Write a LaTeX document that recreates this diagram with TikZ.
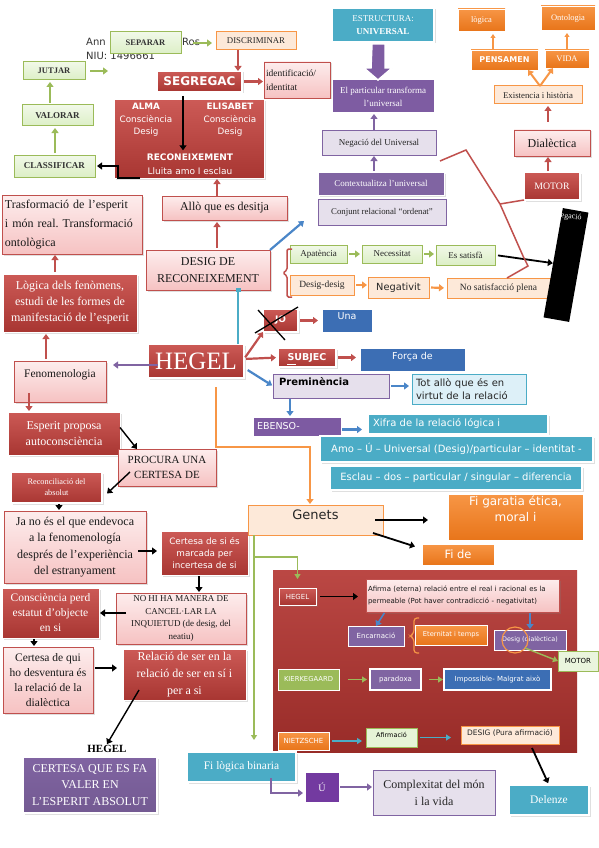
\documentclass[tikz,border=0pt]{standalone}
\usepackage{fontspec}
\setmainfont{Liberation Serif}
\newfontfamily\djs{DejaVu Sans}
\usetikzlibrary{arrows.meta,shadows,calc}
\frenchspacing
\definecolor{rd}{HTML}{C0504D}
\definecolor{rdt}{HTML}{CC5A56}
\definecolor{rdd}{HTML}{A83632}
\definecolor{pkt}{HTML}{FDEDED}
\definecolor{pkb}{HTML}{F6C2C2}
\definecolor{gr}{HTML}{9BBB59}
\definecolor{grl}{HTML}{DCEFC6}
\definecolor{org}{HTML}{F79646}
\definecolor{orgd}{HTML}{E8751A}
\definecolor{pch}{HTML}{FDE9D9}
\definecolor{pu}{HTML}{8064A2}
\definecolor{pud}{HTML}{7030A0}
\definecolor{lav}{HTML}{E6E0EC}
\definecolor{tl}{HTML}{4BACC6}
\definecolor{bl}{HTML}{3C6EB4}
\definecolor{barrc}{HTML}{4A86C8}
\definecolor{lbl}{HTML}{DDF0F8}
\definecolor{bigr}{HTML}{B3332F}
\newcommand\fsz[2]{\fontsize{#1}{#2}\selectfont}
\newcommand\bx[7]{\node[#6, minimum width=#4pt-#2pt, minimum height=#5pt-#3pt] (#1) at ({(#2+#4)/2},{(#3+#5)/2}) {#7};}
\tikzset{
 base/.style={rectangle, inner sep=1pt, outer sep=0pt, align=center},
 shd/.style={drop shadow={opacity=0.25, shadow xshift=1.5pt, shadow yshift=-1.5pt}},
 gbox/.style={base, top color=grl!40!white, bottom color=grl, draw=gr, line width=1pt, font=\fsz{9}{10}\bfseries, text=black!80},
 gbox2/.style={base, top color=grl!40!white, bottom color=grl, draw=gr, line width=1pt, font=\fsz{9}{10}, text=black!85},
 pbox/.style={base, top color=pkt, bottom color=pkb, draw=rd, line width=0.8pt, text=black!90, font=\fsz{12}{16}, shd},
 rbox/.style={base, top color=rdt, bottom color=rdd, draw=white, line width=0.8pt, text=white, font=\fsz{11.5}{16}, shd},
 rwb/.style={rbox, line width=2.2pt},
 peach/.style={base, fill=pch, draw=org, line width=1pt, text=black!85, font=\fsz{8.8}{10}},
 peach2/.style={peach, font=\fsz{9.5}{11}},
 orbox/.style={base, top color=org, bottom color=orgd, draw=white, line width=0.6pt, text=white, font=\fsz{8.5}{10}},
 purpbox/.style={base, fill=pu, draw=white, line width=1pt, text=white, font=\fsz{9}{11}},
 lavbox/.style={base, fill=lav, draw=pu, line width=1pt, text=black!85, font=\fsz{9}{11}},
 tealbox/.style={base, fill=tl, draw=white, line width=1.5pt, text=white, font=\djs\fsz{10}{11.5}, shd},
 bluebox/.style={base, fill=bl, draw=white, line width=0.6pt, text=white, font=\djs\fsz{9.5}{11}},
 tiny/.style={font=\djs\fsz{7}{8}},
 arr/.style={-{Triangle[length=5pt,width=7pt]}, line width=2.2pt},
 rarr/.style={arr, draw=rd},
 garr/.style={arr, draw=gr},
 karr/.style={arr, draw=black, line width=1.8pt},
 barr/.style={arr, draw=barrc},
 parr/.style={arr, draw=pu},
 oarr/.style={arr, draw=org},
 tarr/.style={arr, draw=tl},
 thin/.style={-{Triangle[length=4pt,width=5pt]}, line width=1.2pt},
}
\begin{document}
\begin{tikzpicture}[x=1pt,y=-1pt]
\useasboundingbox (0,0) rectangle (599,848);
\fill[white] (0,0) rectangle (599,848);
% author
\node[anchor=west, inner sep=0, font=\djs\fsz{10}{12}, text=black!80] (authA) at (86,42) {Ann};
\node[anchor=west, inner sep=0, font=\djs\fsz{10}{12}, text=black!80] (authB) at (182,42) {Ros};
\node[anchor=west, inner sep=0, font=\djs\fsz{10}{12}, text=black!80] (niu) at (86,56) {NIU: 1496661};
% top left
\bx{separar}{110}{32}{181}{54}{gbox, font=\fsz{8.5}{10}\bfseries}{SEPARAR}
\bx{discr}{216}{32}{296}{50}{peach}{DISCRIMINAR}
\bx{segreg}{157}{71}{242}{92}{rwb, font=\djs\bfseries\fsz{12}{13}}{SEGREGAC}
\bx{ident}{264}{62}{330}{98}{pbox, font=\fsz{9.5}{14}, text width=62pt, align=left}{identificació/\\identitat}
\bx{jutjar}{23}{62}{85}{80}{gbox, font=\fsz{8.5}{10}\bfseries}{JUTJAR}
\bx{valorar}{22}{105}{93}{126}{gbox}{VALORAR}
\bx{classif}{14}{155}{95}{177}{gbox}{CLASSIFICAR}
\coordinate (jutend) at (108,71);
\bx{alma}{114}{100}{264}{178}{rbox, line width=0pt}{}
\node[text=white, font=\djs\fsz{8.8}{12.5}, align=center] (almaA) at (146,120) {\textbf{ALMA}\\Consciència\\Desig};
\node[text=white, font=\djs\fsz{8.8}{12.5}, align=center] (almaB) at (230,120) {\textbf{ELISABET}\\Consciència\\Desig};
\node[text=white, font=\djs\fsz{9}{13.5}, align=center] (recon) at (190,164) {\textbf{RECONEIXEMENT}\\Lluita amo I esclau};
\bx{allo}{162}{196}{287}{220}{pbox}{Allò que es desitja}
\bx{trasf}{2}{195}{142}{254}{pbox, font=\fsz{12}{19}, text width=134pt, align=left}{Trasformació de l’esperit\\i món real. Transformació\\ontològica}
\bx{logica}{3}{274}{137}{332}{rbox, font=\fsz{12}{16}}{Lògica dels fenòmens,\\estudi de les formes de\\manifestació de l’esperit}
\bx{desig}{146}{250}{270}{290}{pbox, font=\fsz{12}{17}}{DESIG DE\\RECONEIXEMENT}
\coordinate (blueend) at (304,221);
\bx{apat}{290}{245}{347}{263}{gbox2}{Apatència}
\bx{necess}{362}{245}{422}{263}{gbox2}{Necessitat}
\bx{satisf}{436}{245}{495}{265}{gbox2}{Es satisfà}
\bx{desdes}{290}{275}{354}{295}{peach2}{Desig-desig}
\bx{negat}{368}{277}{429}{298}{peach2, font=\djs\fsz{9.8}{11}}{Negativit}
\bx{nosat}{447}{278}{550}{298}{peach2}{No satisfacció plena}
\node[fill=black, rotate=-10, minimum width=26pt, minimum height=111pt, inner sep=0] (negbox) at (566,265) {};
\node[text=white, font=\fsz{8}{9}, rotate=-6, anchor=north west, inner sep=0] (negtxt) at (561,212) {egació};
% top middle/right
\bx{estr}{332}{8}{434}{42}{tealbox, font=\fsz{9}{13}}{ESTRUCTURA:\\\textbf{UNIVERSAL}}
\bx{partic}{332}{80}{434}{113}{purpbox, fill=pu!85!pud, font=\fsz{9}{13}}{El particular transforma\\l’universal}
\bx{negu}{322}{131}{436}{155}{lavbox}{Negació del Universal}
\bx{contx}{318}{172}{444}{195}{purpbox, shd}{Contextualitza l’universal}
\bx{conjunt}{318}{199}{446}{225}{lavbox, font=\fsz{8.8}{10}}{Conjunt relacional “ordenat”}
\bx{logic}{458}{9}{505}{31}{orbox}{lògica}
\bx{ontol}{541}{6}{595}{30}{orbox}{Ontologia}
\bx{pensa}{471}{50}{538}{70}{orbox, font=\djs\bfseries\fsz{8}{10}}{PENSAMEN}
\bx{vida}{545}{50}{589}{68}{orbox, font=\fsz{8.5}{10}}{VIDA}
\bx{exist}{494}{86}{582}{104}{peach, font=\fsz{8.8}{10}}{Existencia i història}
\bx{dial}{514}{130}{590}{156}{pbox, font=\fsz{12}{14}}{Dialèctica}
\bx{motor}{524}{172}{580}{200}{rwb, font=\fsz{9.8}{11}}{MOTOR}
% middle
\bx{hegel}{148}{344}{244}{378}{rwb, font=\fsz{25}{27}}{HEGEL}
\bx{jo}{263}{309}{298}{332}{rwb, font=\djs\bfseries\fsz{9}{10}}{JO}
\bx{una}{322}{309}{372}{332}{bluebox}{Una\\[-3pt]\mbox{}}
\bx{subj}{278}{348}{336}{367}{rwb, font=\djs\bfseries\fsz{9.5}{10}}{SUBJEC}
\bx{forca}{360}{348}{465}{371}{bluebox}{Força de\\[-3pt]\mbox{}}
\bx{premin}{273}{374}{389}{398}{lavbox, font=\djs\bfseries\fsz{10}{11}, text=black, text width=104pt, align=left}{Preminència\\[-2pt]\mbox{}}
\bx{totallo}{412}{374}{526}{404}{base, fill=lbl, draw=tl, line width=1pt, font=\djs\fsz{10}{13}, text=black!85, text width=106pt, align=left}{Tot allò que és en\\virtut de la relació}
\bx{ebenso}{253}{417}{341}{436}{purpbox, fill=pu!80!pud, font=\djs\fsz{9.5}{11}, text width=80pt, align=left}{EBENSO-}
\bx{xifra}{368}{414}{548}{434}{tealbox, text width=170pt, align=left}{Xifra de la relació lógica i}
\bx{amo}{320}{436}{593}{462}{tealbox}{Amo – Ú – Universal (Desig)/particular – identitat -}
\bx{esclau}{330}{466}{582}{490}{tealbox}{Esclau – dos – particular / singular – diferencia}
% left column
\bx{fenom}{14}{361}{106}{402}{pbox, font=\fsz{11.5}{15}}{Fenomenologia\\\mbox{}}
\bx{esperit}{8}{412}{120}{455}{rbox, font=\fsz{12}{16}}{Esperit proposa\\autoconsciència}
\bx{procura}{118}{449}{216}{486}{pbox, font=\fsz{11}{15}}{PROCURA UNA\\CERTESA DE}
\bx{reconc}{11}{472}{102}{503}{rwb, font=\fsz{8.3}{11}}{Reconciliació del\\absolut}
\bx{jano}{4}{511}{146}{583}{pbox, font=\fsz{12}{16.5}}{Ja no és el que endevoca\\a la fenomenología\\després de l’experiència\\del estranyament}
\bx{certsi}{161}{531}{248}{575}{rbox, font=\djs\fsz{8.8}{12}}{Certesa de si és\\marcada per\\incertesa de si}
\bx{nohi}{116}{593}{246}{644}{pbox, font=\fsz{9}{12.7}}{NO HI HA MANERA DE\\CANCEL·LAR LA\\INQUIETUD (de desig, del\\neatiu)}
\bx{consc}{2}{588}{99}{638}{rbox, font=\fsz{11.5}{15}}{Consciència perd\\estatut d’objecte\\en si}
\bx{certqui}{3}{647}{93}{713}{pbox, font=\fsz{11.5}{15}}{Certesa de qui\\ho desventura és\\la relació de la\\dialèctica}
\bx{relser}{123}{649}{246}{700}{rbox, font=\fsz{12}{17}}{Relació de ser en la\\relació de ser en sí i\\per a si}
\node[font=\bfseries\fsz{11}{12}, inner sep=1pt] (hegellbl) at (107,749) {HEGEL};
\bx{certfa}{23}{757}{157}{813}{rwb, top color=pu, bottom color=pu!90!black, font=\fsz{12}{16.5}}{CERTESA QUE ES FA\\VALER EN\\L’ESPERIT ABSOLUT}
% bottom right
\bx{genets}{248}{505}{383}{535}{peach, font=\djs\fsz{13}{15}}{Genets\\[-4pt]\mbox{}}
\bx{figar}{448}{494}{583}{540}{orbox, font=\djs\fsz{12}{16}}{Fi garatia ética,\\moral i\\\mbox{}}
\bx{fide}{422}{544}{494}{565}{orbox, font=\djs\fsz{11.5}{12}}{Fi de}
\bx{bigbox}{273}{570}{577}{752}{base, top color=bigr!90!white, bottom color=bigr!85!black}{}
\bx{hegel2}{279}{588}{316}{605}{rbox, line width=0.5pt, tiny}{HEGEL}
\bx{afirma}{366}{579}{559}{612}{pbox, font=\djs\fsz{7}{12}, text width=189pt, align=left}{Afirma (eterna) relació entre el real i racional es la\\permeable (Pot haver contradicció - negativitat)}
\bx{encarn}{348}{626}{404}{646}{purpbox, tiny}{Encarnació}
\bx{etern}{415}{625}{487}{645}{orbox, tiny, font=\djs\fsz{6.7}{8}}{Eternitat i temps}
\bx{desigd}{494}{630}{566}{650}{purpbox, font=\djs\fsz{6.4}{8}}{Desig (dialèctica)}
\bx{motor2}{558}{651}{598}{671}{base, fill=grl!60!white, draw=gr, line width=0.8pt, tiny}{MOTOR}
\bx{kierk}{278}{669}{339}{690}{base, fill=gr, draw=white, line width=0.5pt, text=white, font=\djs\fsz{6.8}{8}}{KIERKEGAARD}
\bx{parad}{370}{669}{421}{690}{purpbox, line width=1.5pt, tiny}{paradoxa}
\bx{imposs}{444}{669}{551}{690}{bluebox, line width=1.5pt, tiny}{Impossible- Malgrat això}
\bx{nietz}{278}{732}{329}{750}{orbox, tiny}{NIETZSCHE}
\bx{afirm}{366}{728}{417}{747}{base, fill=grl!70!white, draw=gr, line width=0.6pt, font=\djs\fsz{6.5}{8}}{Afirmació\\[-3pt]\mbox{}}
\bx{desigp}{461}{726}{559}{744}{peach, font=\djs\fsz{7.5}{8}}{DESIG (Pura afirmació)\\[-3pt]\mbox{}}
\bx{delenze}{509}{785}{589}{815}{tealbox, line width=2pt, font=\fsz{11.5}{12}}{Delenze}
\bx{filog}{187}{752}{296}{782}{tealbox, font=\fsz{11.5}{12}}{Fi lògica binaria}
\bx{u}{305}{772}{339}{802}{purpbox, fill=pud!80!pu, font=\fsz{10}{11}}{Ú}
\bx{complex}{373}{770}{495}{815}{lavbox, font=\fsz{12}{17}}{Complexitat del món\\i la vida}
% ---------------- connectors ----------------
\draw[garr, shorten <=12pt, shorten >=4pt] (separar.east) -- (separar.east -| discr.west);
\draw[rarr] (238,0 |- discr.south) -- (238,0 |- segreg.north);
\draw[rarr, shorten <=2pt, shorten >=1pt] (segreg.east) -- (ident.west |- segreg.east);
\draw[garr, shorten <=5pt] (jutjar.east) -- (jutjar.east -| jutend);
\draw[garr, shorten <=2pt, shorten >=2pt] (50,0 |- valorar.north) -- (50,0 |- jutjar.south);
\draw[garr, shorten <=2pt, shorten >=2pt] (55,0 |- classif.north) -- (55,0 |- valorar.south);
\draw[karr, shorten <=4pt] (183,0 |- segreg.south) -- (183,0 |- recon.north);
\draw[karr, -{Triangle[length=5pt,width=7pt]}] (140,0 |- alma.south) -- (118,0 |- alma.south) -- (118,0 |- classif.east) -- ([xshift=2pt]classif.east);
\draw[rarr, shorten >=1pt] (217,0 |- allo.north) -- (217,0 |- alma.south);
\draw[rarr, shorten <=2pt, shorten >=1pt] (55,0 |- logica.north) -- (55,0 |- trasf.south);
\draw[rarr, shorten <=2pt, shorten >=2pt] (217,0 |- desig.north) -- (217,0 |- allo.south);
\draw[barr] (desig.north east) -- (blueend);
\draw[rd, line width=1.5pt, rounded corners=1.5pt] (292,249) -- (287,249) -- (287,270) -- (283,273) -- (287,276) -- (287,297) -- (292,297);
\draw[garr, shorten <=2pt, shorten >=2pt] (apat.east) -- (necess.west);
\draw[garr, shorten <=2pt, shorten >=2pt] (necess.east) -- (satisf.west |- necess.east);
\draw[karr, shorten <=3pt] (satisf.east) -- (negbox);
\draw[oarr, shorten <=2pt, shorten >=1pt] (desdes.east) -- (negat.west |- desdes.east);
\draw[oarr, shorten <=2pt, shorten >=3pt] (negat.east) -- (nosat.west);
\draw[rd, line width=1.5pt] ([shift={(4,6)}]negu.south east) -- (466,150) -- (500,204) -- (523,256) -- (528,266) -- ([shift={(-43,0)}]nosat.north east);
\draw[rd, line width=1.5pt] (500,204) -- (motor.south west);
% hollow block arrow
\draw[white, line width=1.5pt, fill=pu!85!pud] (372,44) -- (385,44) -- (385,68) -- (392,68) -- (378,80) -- (364,68) -- (371,68) -- cycle;
\draw[parr, shorten <=1pt, shorten >=1pt] (374,0 |- negu.north) -- (374,0 |- partic.south);
\draw[parr, shorten <=1pt, shorten >=1pt] (374,0 |- contx.north) -- (374,0 |- negu.south);
\draw[org, thin, shorten <=1pt, shorten >=3pt] (493,0 |- pensa.north) -- (493,0 |- logic.south);
\draw[org, thin, shorten <=1pt, shorten >=3pt] (567,0 |- vida.north) -- (567,0 |- ontol.south);
\draw[oarr, line width=2pt] (540,0 |- exist.north) -- (528,0 |- pensa.south);
\draw[oarr, line width=2pt] (540,0 |- exist.north) -- (553,0 |- vida.south);
\draw[rarr, shorten <=8pt, shorten >=2pt] (548,0 |- dial.north) -- (548,0 |- exist.south);
\draw[rarr, shorten <=1pt, shorten >=1pt] (548,0 |- motor.north) -- (548,0 |- dial.south);
% hegel
\draw[tarr, -{Square[length=4pt,width=5pt]}, shorten >=-2pt] (238,0 |- hegel.north) -- (238,0 |- desig.south);
\draw[parr, shorten <=-10pt, shorten >=7pt] ([shift={(0,4)}]hegel.west) -- ([shift={(0,4)}]fenom.east |- hegel.west);
\draw[rarr, shorten <=2pt] ([shift={(0,-2)}]hegel.east) -- (jo.south west);
\draw[rarr, shorten <=2pt, shorten >=2pt] ([shift={(0,-2)}]hegel.east) -- (subj.west);
\draw[barr, shorten <=2pt, shorten >=1pt] ([shift={(2,-9)}]hegel.south east) -- (premin.west);
\draw[black, line width=1.3pt] (255,333) -- (298,307);
\draw[black, line width=1.3pt] (258,310) -- (285,340);
\draw[white, line width=1pt] (287,364) -- (296,364);
\draw[rarr, shorten <=2pt, shorten >=4pt] (jo.east) -- (una.west);
\draw[rarr, shorten <=2pt, shorten >=4pt] (subj.east) -- (forca.west |- subj.east);
\draw[barr, shorten <=2pt, shorten >=3pt] (premin.east) -- (totallo.west |- premin.east);
\draw[barr, shorten <=1pt, shorten >=1pt] (290,0 |- premin.south) -- (290,0 |- ebenso.north);
\draw[barr, shorten <=1pt, shorten >=6pt] ([shift={(0,3)}]ebenso.east) -- ([shift={(0,3)}]ebenso.east -| xifra.west);
\draw[oarr, shorten <=9pt, shorten >=1pt] (216,0 |- hegel.south) -- (216,447) -- (310,447) -- (310,0 |- genets.north);
% left chain
\draw[rarr, shorten <=2pt, shorten >=2pt] (46,0 |- fenom.north) -- (46,0 |- logica.south);
\draw[rarr, shorten <=-9pt, shorten >=1pt] (29,0 |- fenom.south) -- (29,0 |- esperit.north);
\draw[karr, line width=1.4pt] ([shift={(0,-6)}]esperit.east) -- ([shift={(19,0)}]procura.north west);
\draw[karr, line width=1.4pt] ([shift={(12,-14)}]procura.south west) -- ([shift={(5,6)}]reconc.east);
\draw[karr, shorten <=1pt, shorten >=1pt] (59,0 |- reconc.south) -- (59,0 |- jano.north);
\draw[karr, shorten <=-8pt, shorten >=4pt] ([shift={(0,4)}]jano.east) -- ([shift={(0,4)}]jano.east -| certsi.west);
\draw[karr, shorten <=1pt, shorten >=1pt] (199,0 |- certsi.south) -- (199,0 |- nohi.north);
\draw[karr, shorten <=-10pt, shorten >=1pt] (nohi.west |- consc.east) -- (consc.east);
\draw[karr, shorten <=1pt, shorten >=1pt] (34,0 |- consc.south) -- (34,0 |- certqui.north);
\draw[karr, shorten >=6pt] ([shift={(2,-12)}]certqui.east) -- ([shift={(0,-12)}]certqui.east -| relser.west);
\draw[karr, line width=1.4pt] ([shift={(16,-10)}]relser.south west) -- (hegellbl.north);
% bottom right
\draw[karr, shorten <=-8pt, shorten >=20pt] (genets.east) -- (genets.east -| figar.west);
\draw[karr] ([shift={(-10,13)}]genets.east) -- ([shift={(-7,-8)}]fide.west);
\draw[gr, line width=1.6pt, -{Triangle[length=5pt,width=6pt]}, shorten >=12pt] ([shift={(6,0)}]genets.south west) -- ([shift={(6,0)}]genets.south west |- filog.north);
\draw[gr, line width=1.6pt, -{Triangle[length=5pt,width=6pt]}, shorten >=9pt] ([shift={(6,22)}]genets.south west) -| (hegel2.north);
\draw[karr, shorten <=4pt, shorten >=8pt] (hegel2.east) -- (afirma.west |- hegel2.east);
\draw[barr, line width=1.6pt, shorten <=1pt] ([shift={(19,0)}]afirma.south west) -- (encarn.north);
\draw[barr, line width=1.6pt, shorten <=1pt, shorten >=1pt] (530,0 |- afirma.south) -- (530,0 |- desigd.north);
\draw[org, line width=1.2pt, rounded corners=3pt] (419,618) -- (414,618) -- (414,633) -- (410,636) -- (414,639) -- (414,653) -- (419,653);
\draw[org, line width=1.2pt] (515,640) circle[radius=13pt];
\draw[gr, line width=1.4pt, -{Triangle[length=5pt,width=6pt]}] ([shift={(-5,-2)}]desigd.south) -- (motor2.west);
\draw[gr, line width=1.4pt, -{Triangle[length=5pt,width=6pt]}, shorten <=9pt, shorten >=3pt] (kierk.east) -- (parad.west);
\draw[gr, line width=1.4pt, -{Triangle[length=5pt,width=6pt]}, shorten <=8pt, shorten >=1pt] (parad.east) -- (imposs.west);
\draw[tl, line width=1.4pt, -{Triangle[length=5pt,width=6pt]}, shorten <=3pt, shorten >=4pt] (nietz.east) -- (nietz.east -| afirm.west);
\draw[tl, line width=1.4pt, -{Triangle[length=5pt,width=6pt]}, shorten <=3pt, shorten >=10pt] (afirm.east) -- (afirm.east -| desigp.west);
\draw[karr, shorten >=2pt] ([shift={(22,4)}]desigp.south) -- (delenze.north);
\draw[parr, shorten >=2pt] ([shift={(-25,-4)}]filog.south east) |- ([shift={(0,6)}]u.west);
\draw[parr, shorten <=1pt, shorten >=1pt] (u.east) -- (u.east -| complex.west);
\end{tikzpicture}
\end{document}
